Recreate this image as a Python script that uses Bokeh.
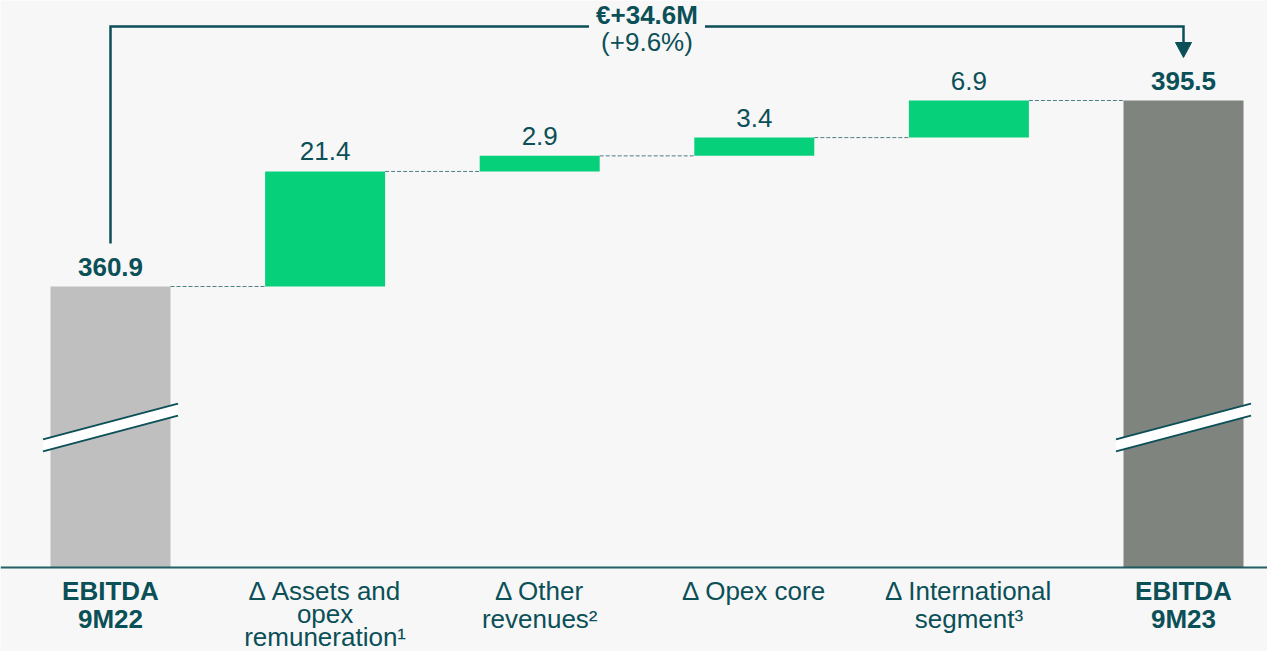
from bokeh.plotting import figure
from bokeh.models import ColumnDataSource, Span
from bokeh.core.properties import value
from bokeh.embed import file_html
from bokeh.resources import INLINE

# ---------------- data ----------------
categories = [
    ["EBITDA", "9M22"],
    ["Δ Assets and", "opex", "remuneration¹"],
    ["Δ Other", "revenues²"],
    ["Δ Opex core"],
    ["Δ International", "segment³"],
    ["EBITDA", "9M23"],
]
start_value = 360.9
deltas = [21.4, 2.9, 3.4, 6.9]
end_value = 395.5
value_labels = ["360.9", "21.4", "2.9", "3.4", "6.9", "395.5"]
change_label = "€+34.6M"
change_pct_label = "(+9.6%)"

# ---------------- style / layout ----------------
W, H = 1267, 651
PX_Y = 5.376          # pixels per data unit (vertical)
PX_X = 214.6          # pixels per category step
BG = "#f7f7f7"
TEAL = "#0b4f57"
DASH_C = "#4f7f87"
GREEN = "#07d07b"
GREY = "#bfbfbf"
DARK = "#7f847f"
FONT = value("Liberation Sans")
FS = value("26px")
TXT_FIX = 9.0         # baseline correction (px) for rendered text

def py(n):
    return n / PX_Y

def px(n):
    return n / PX_X

y_end = end_value + py(100)
y_start = y_end - py(H)
base = y_end - py(567)           # visual floor of the broken axis
x_start = -px(110)
x_end = x_start + px(W)
bw = px(120)

n = len(categories)
xs = list(range(n))
bottoms, tops, colors = [], [], []
cum = start_value
bottoms.append(base); tops.append(start_value); colors.append(GREY)
for d in deltas:
    bottoms.append(cum); tops.append(cum + d); colors.append(GREEN)
    cum += d
bottoms.append(base); tops.append(end_value); colors.append(DARK)

p = figure(width=W, height=H, x_range=(x_start, x_end), y_range=(y_start, y_end),
           output_backend="svg", toolbar_location=None, min_border=0,
           x_axis_type=None, y_axis_type=None)
p.grid.visible = False
p.outline_line_color = None
p.background_fill_color = BG
p.border_fill_color = BG

bars = ColumnDataSource(dict(x=xs, bottom=bottoms, top=tops, color=colors))
p.vbar(x="x", bottom="bottom", top="top", width=bw, fill_color="color",
       line_color=None, source=bars)

# connectors
cx0, cx1, cy = [], [], []
for i in range(n - 1):
    level = tops[i] if i > 0 else start_value
    cx0.append(i + bw / 2); cx1.append(i + 1 - bw / 2); cy.append(level)
p.segment(x0=cx0, y0=cy, x1=cx1, y1=cy, line_color=DASH_C, line_width=1,
          line_dash="4 2")

# baseline
p.add_layout(Span(location=base, dimension="width", line_color=TEAL,
                  line_width=2, line_alpha=0.9))

# break marks on the total bars
bc = base + py(140)
half = px(67.5)
rise = py(17.85)
gap = py(6)
for i in (0, n - 1):
    xl, xr = i - half, i + half
    up_l, up_r = bc + gap - rise, bc + gap + rise
    lo_l, lo_r = bc - gap - rise, bc - gap + rise
    p.patch([xl, xr, xr, xl], [up_l, up_r, lo_r, lo_l], fill_color="white",
            line_color=None)
    p.line([xl, xr], [up_l, up_r], line_color=TEAL, line_width=2)
    p.line([xl, xr], [lo_l, lo_r], line_color=TEAL, line_width=2)

# value labels
styles = ["bold"] + ["normal"] * len(deltas) + ["bold"]
vl = ColumnDataSource(dict(x=xs, y=[t + py(11 + TXT_FIX) for t in tops],
                           t=value_labels, s=styles))
p.text(x="x", y="y", text="t", text_font_style="s", source=vl, text_font=FONT,
       text_font_size=FS, text_color=TEAL, text_align="center",
       text_baseline="alphabetic")

# category labels (three-line label packed tighter so it stays inside the page)
lx, ly, lt, ls = [], [], [], []
for i, lines in enumerate(categories):
    step = 23 if len(lines) > 2 else 28
    for k, line in enumerate(lines):
        lx.append(i); ly.append(base - py(32 + step * k - TXT_FIX)); lt.append(line)
        ls.append("bold" if i in (0, n - 1) else "normal")
cl = ColumnDataSource(dict(x=lx, y=ly, t=lt, s=ls))
p.text(x="x", y="y", text="t", text_font_style="s", source=cl, text_font=FONT,
       text_font_size=FS, text_color=TEAL, text_align="center",
       text_baseline="alphabetic")

# bracket with arrow
top_y = end_value + py(74)
mid = (0 + n - 1) / 2
g = px(58)
p.line([0, 0, mid - g], [start_value + py(43), top_y, top_y], line_color=TEAL,
       line_width=2.5, line_join="miter")
tip = end_value + py(43)
head = py(15)
p.line([mid + g, n - 1, n - 1], [top_y, top_y, tip + head], line_color=TEAL,
       line_width=2.5, line_join="miter")
hw = px(8)
p.patch([n - 1 - hw, n - 1 + hw, n - 1], [tip + head, tip + head, tip],
        fill_color=TEAL, line_color=TEAL, line_width=1)

p.text(x=[mid], y=[end_value + py(77 + TXT_FIX)], text=[change_label], text_font=FONT,
       text_font_size=FS, text_font_style="bold", text_color=TEAL,
       text_align="center", text_baseline="alphabetic")
p.text(x=[mid], y=[end_value + py(50 + TXT_FIX)], text=[change_pct_label], text_font=FONT,
       text_font_size=FS, text_color=TEAL, text_align="center",
       text_baseline="alphabetic")

open("out.html", "w").write(file_html(p, INLINE))
